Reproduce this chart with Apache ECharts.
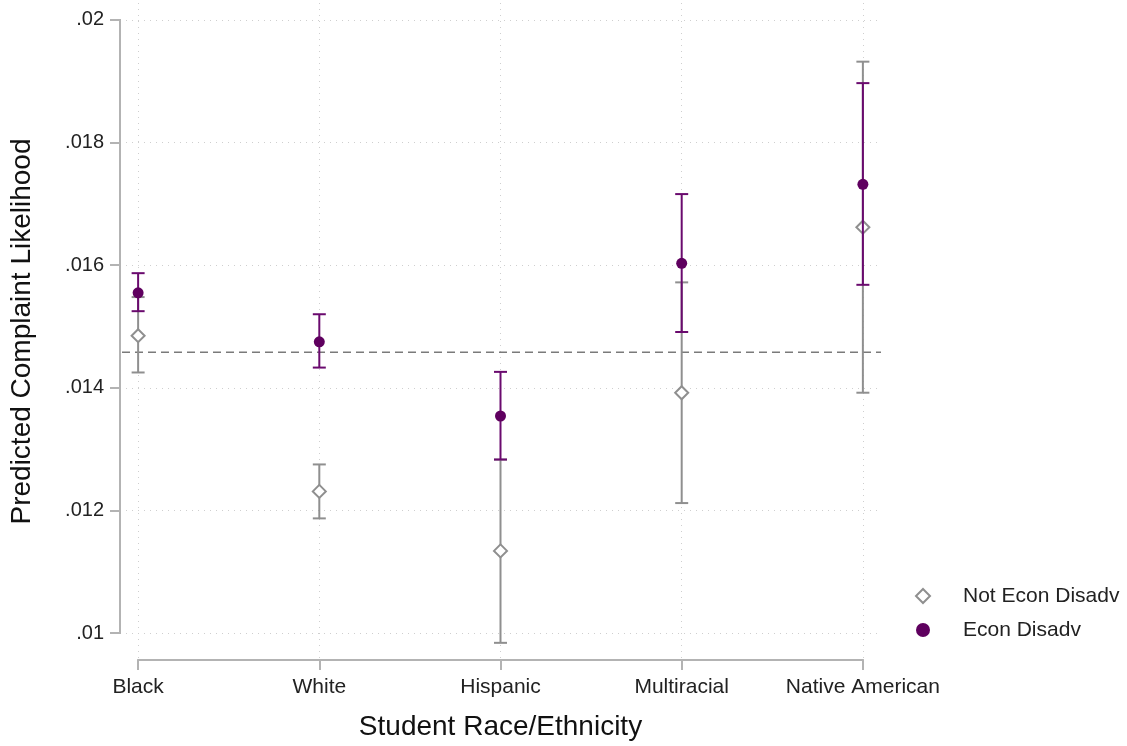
<!DOCTYPE html>
<html>
<head>
<meta charset="utf-8">
<script src="https://cdn.jsdelivr.net/npm/echarts@6/dist/echarts.min.js"></script>
<style>
html,body{margin:0;padding:0;background:#fff;}
#chart{width:1127px;height:746px;}
</style>
</head>
<body>
<div id="chart"></div>
<script>
// ---- data ----
const categories = ['Black', 'White', 'Hispanic', 'Multiracial', 'Native American'];
const notEconPoint = [0.01485, 0.01231, 0.01134, 0.01392, 0.01662];
const notEconLow   = [0.01425, 0.01187, 0.00984, 0.01212, 0.01392];
const notEconHigh  = [0.01548, 0.01275, 0.01283, 0.01572, 0.01932];
const econPoint    = [0.01555, 0.01475, 0.01354, 0.01603, 0.01732];
const econLow      = [0.01525, 0.01433, 0.01283, 0.01491, 0.01568];
const econHigh     = [0.01587, 0.01520, 0.01426, 0.01716, 0.01897];
const refLine = 0.01458;
const yTicks = [0.01, 0.012, 0.014, 0.016, 0.018, 0.02];
const yTickLabels = ['.01', '.012', '.014', '.016', '.018', '.02'];
const xTicks = [1, 2, 3, 4, 5];

const GRAY = '#8f8f8f';
const PURPLE = '#6a0a6e';
const PURPLE_DOT = '#5f005f';
const FONT = 'Liberation Sans, Arial, sans-serif';
const X_MIN = 0.9, X_MAX = 5.1, Y_MIN = 0.00956, Y_MAX = 0.020277;

function barData(lo, hi) { return categories.map((c, i) => [i + 1, lo[i], hi[i]]); }
function pointData(p) { return categories.map((c, i) => [i + 1, p[i]]); }

function renderBars(color) {
  return function (params, api) {
    const x = api.value(0), lo = api.value(1), hi = api.value(2);
    const a = api.coord([x, lo]), b = api.coord([x, hi]);
    const hw = 6.5;
    const st = { stroke: color, lineWidth: 2 };
    return { type: 'group', children: [
      { type: 'line', shape: { x1: a[0], y1: a[1], x2: b[0], y2: b[1] }, style: st },
      { type: 'line', shape: { x1: a[0] - hw, y1: a[1], x2: a[0] + hw, y2: a[1] }, style: st },
      { type: 'line', shape: { x1: b[0] - hw, y1: b[1], x2: b[0] + hw, y2: b[1] }, style: st }
    ]};
  };
}

function renderAxes(params, api) {
  const y0 = api.coord([X_MIN, yTicks[0]]), y1 = api.coord([X_MIN, yTicks[yTicks.length - 1]]);
  const x0 = api.coord([xTicks[0], Y_MIN]), x1 = api.coord([xTicks[xTicks.length - 1], Y_MIN]);
  const st = { stroke: '#b3b3b3', lineWidth: 2 };
  return { type: 'group', children: [
    { type: 'line', shape: { x1: y0[0], y1: y0[1] + 1, x2: y1[0], y2: y1[1] - 1 }, style: st },
    { type: 'line', shape: { x1: x0[0] - 1, y1: x0[1], x2: x1[0] + 1, y2: x1[1] }, style: st }
  ]};
}

function renderRef(params, api) {
  const v = api.value(0);
  const a = api.coord([X_MIN, v]), b = api.coord([X_MAX, v]);
  return { type: 'line', shape: { x1: a[0] + 2, y1: a[1], x2: b[0], y2: b[1] },
    style: { stroke: '#7a7a7a', lineWidth: 1.6, lineDash: [8, 5] } };
}

const chart = echarts.init(document.getElementById('chart'), null, { renderer: 'canvas' });
chart.setOption({
  animation: false,
  backgroundColor: '#fff',
  textStyle: { fontFamily: FONT },
  grid: { left: 120, right: 246, top: 3, bottom: 85, containLabel: false },
  xAxis: {
    type: 'value', min: X_MIN, max: X_MAX,
    name: 'Student Race/Ethnicity', nameLocation: 'middle', nameGap: 53,
    nameTextStyle: { fontSize: 28, color: '#111', fontFamily: FONT },
    axisLine: { show: false },
    axisTick: { show: true, customValues: xTicks, length: 10, lineStyle: { color: '#b3b3b3', width: 2 } },
    axisLabel: { customValues: xTicks, margin: 17, fontSize: 21, color: '#222', fontFamily: FONT,
      formatter: v => categories[Math.round(v) - 1] || '' },
    splitLine: { show: true, lineStyle: { color: '#cfcfcf', type: [1, 5], width: 1 } }
  },
  yAxis: {
    type: 'value', min: Y_MIN, max: Y_MAX,
    name: 'Predicted Complaint Likelihood', nameLocation: 'middle', nameGap: 84, nameRotate: 90,
    nameTextStyle: { fontSize: 28, color: '#111', fontFamily: FONT },
    axisLine: { show: false },
    axisTick: { show: true, customValues: yTicks, length: 10, lineStyle: { color: '#b3b3b3', width: 2 } },
    axisLabel: { customValues: yTicks, margin: 16, fontSize: 20, color: '#222', fontFamily: FONT,
      formatter: v => { const i = yTicks.findIndex(t => Math.abs(t - v) < 1e-9); return i >= 0 ? yTickLabels[i] : ''; } },
    splitLine: { show: true, lineStyle: { color: '#cfcfcf', type: [1, 5], width: 1 } }
  },
  legend: {
    orient: 'vertical', left: 915, top: 584, itemGap: 10, padding: 0,
    itemWidth: 14, itemHeight: 14,
    textStyle: { fontSize: 21, lineHeight: 24, color: '#222', fontFamily: FONT, padding: [0, 0, 0, 28] },
    data: ['Not Econ Disadv', 'Econ Disadv'],
    selectedMode: false
  },
  series: [
    { type: 'custom', silent: true, clip: false, renderItem: renderAxes, data: [[1, 0.015]], z: 1 },
    { type: 'custom', silent: true, clip: false, renderItem: renderRef, data: [[refLine]], z: 2 },
    { type: 'custom', name: 'nebar', silent: true, clip: false, renderItem: renderBars(GRAY),
      data: barData(notEconLow, notEconHigh), z: 3 },
    { type: 'scatter', name: 'Not Econ Disadv', silent: true, symbol: 'diamond', symbolSize: 13,
      itemStyle: { color: '#fff', borderColor: GRAY, borderWidth: 2, opacity: 1 },
      data: pointData(notEconPoint), z: 4 },
    { type: 'custom', name: 'ebar', silent: true, clip: false, renderItem: renderBars(PURPLE),
      data: barData(econLow, econHigh), z: 5 },
    { type: 'scatter', name: 'Econ Disadv', silent: true, symbol: 'circle', symbolSize: 11,
      itemStyle: { color: PURPLE_DOT, opacity: 1 },
      data: pointData(econPoint), z: 6 }
  ]
});
</script>
</body>
</html>
